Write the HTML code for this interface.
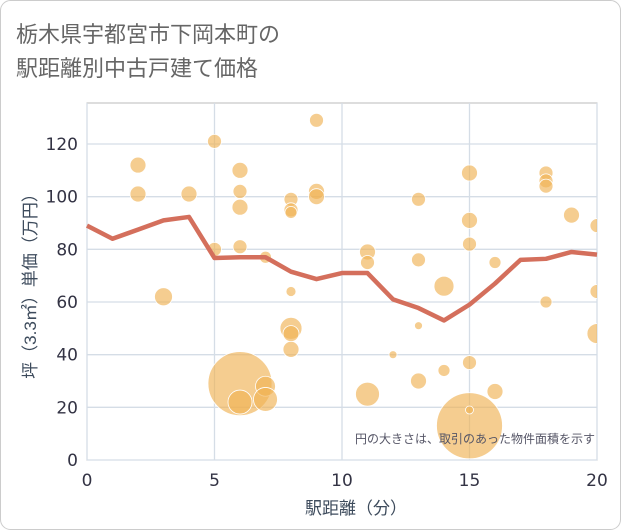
<!DOCTYPE html>
<html><head><meta charset="utf-8"><style>
body{margin:0;background:#fff;font-family:"Liberation Sans","Noto Sans CJK JP",sans-serif}
#wrap{position:relative;width:621px;height:530px;overflow:hidden}
</style></head><body>
<div id="wrap">
<svg id="svg" width="621" height="530" xmlns="http://www.w3.org/2000/svg">
<rect x="0.5" y="0.5" width="620" height="529" rx="10" fill="#fff" stroke="#ccc"/>
<text x="16" y="42" font-size="22" fill="#666" font-family="Liberation Sans,Noto Sans CJK JP,sans-serif">栃木県宇都宮市下岡本町の</text>
<text x="16" y="76" font-size="22" fill="#666" font-family="Liberation Sans,Noto Sans CJK JP,sans-serif">駅距離別中古戸建て価格</text>
<g id="grid"></g><g id="bubbles"></g><g id="line"></g><g id="axes"></g>
<text x="595" y="443" font-size="12" fill="#556" text-anchor="end" font-family="Liberation Sans,Noto Sans CJK JP,sans-serif">円の大きさは、取引のあった物件面積を示す</text>
<text x="356" y="514" font-size="17" fill="#3d4b5c" text-anchor="middle" font-family="Liberation Sans,Noto Sans CJK JP,sans-serif">駅距離（分）</text>
<text transform="translate(36,282) rotate(-90)" font-size="17" fill="#3d4b5c" text-anchor="middle" font-family="Liberation Sans,Noto Sans CJK JP,sans-serif">坪（3.3㎡）単価（万円）</text>
</svg></div>
<script>
const xTicks=[0,5,10,15,20];
const yTicks=[0,20,40,60,80,100,120];
const lineX=[0,1,2,3,4,5,6,7,8,9,10,11,12,13,14,15,16,17,18,19,20];
const lineY=[89,84,87.5,91,92.3,76.7,77,77,71.5,68.7,71,71,61,57.7,53,59,67,76,76.4,79,78];
const bubX=[2,2,3,4,5,5,6,6,6,6,7,8,8,8,8,8,8,8,9,9,9,6,6,7,7,11,11,11,12,13,13,13,13,14,14,15,15,15,15,15,15,16,16,18,18,18,18,19,20,20,20];
const bubY=[112,101,62,101,121,80,110,102,96,81,77,99,95,94,64,50,48,42,129,102,100,29,22,28,23,79,75,25,40,99,76,51,30,66,34,109,91,82,37,13,19,75,26,109,106,104,60,93,89,64,48];
const bubR=[8,8,9,8,7,7,8,7,8,7,6,7,7,6,5,11,8,8,7,8,8,32,12,10,12,8,7,12,4,7,7,4,8,10,6,8,8,7,7,33,4,6,8,7,7,7,6,8,7,7,10];
const X0=87,X1=597,Y0=460,YT=103;
const sx=v=>X0+(v/20)*(X1-X0);
const sy=v=>Y0-v*(460-144)/120;
const NS="http://www.w3.org/2000/svg";
function mk(t,a,p){const e=document.createElementNS(NS,t);for(const k in a)e.setAttribute(k,a[k]);p.appendChild(e);return e;}
const grid=document.getElementById('grid'),axes=document.getElementById('axes');
mk('rect',{x:X0,y:YT,width:X1-X0,height:Y0-YT,fill:'none',stroke:'#bbb'},grid);
for(const t of yTicks){
 const l=mk('line',{x1:X0,x2:X1,y1:sy(t),y2:sy(t),stroke:'#d5dde6','stroke-width':1.3},grid);
 
 
 const tx=mk('text',{x:X0-9,y:sy(t)+6,'font-size':17,fill:'#334','text-anchor':'end','font-family':'DejaVu Sans,sans-serif'},axes);
 tx.textContent=t;
 
 
}
for(const t of xTicks){
 const l=mk('line',{x1:sx(t),x2:sx(t),y1:YT,y2:Y0,stroke:'#d5dde6','stroke-width':1.3},grid);
 
 
 const tx=mk('text',{x:sx(t),y:486,'font-size':17,fill:'#334','text-anchor':'middle','font-family':'DejaVu Sans,sans-serif'},axes);
 tx.textContent=t;
 
 
}
const bg=document.getElementById('bubbles');
const cp=mk('clipPath',{id:'clip'},bg);mk('rect',{x:X0,y:YT,width:X1-X0,height:Y0-YT},cp);
const bgc=mk('g',{'clip-path':'url(#clip)'},bg);
for(let i=0;i<bubX.length;i++){
 const c=mk('circle',{cx:sx(bubX[i]),cy:sy(bubY[i]),r:bubR[i],fill:'rgba(239,178,85,0.65)',stroke:'#fff','stroke-width':0.8},bgc);
 
 
}
const pts=lineX.map((x,i)=>sx(x)+','+sy(lineY[i])).join(' ');
const pl=mk('polyline',{points:pts,fill:'none',stroke:'#d46f5c','stroke-width':4.5,'stroke-linejoin':'round'},document.getElementById('line'));


</script>
</body></html>
